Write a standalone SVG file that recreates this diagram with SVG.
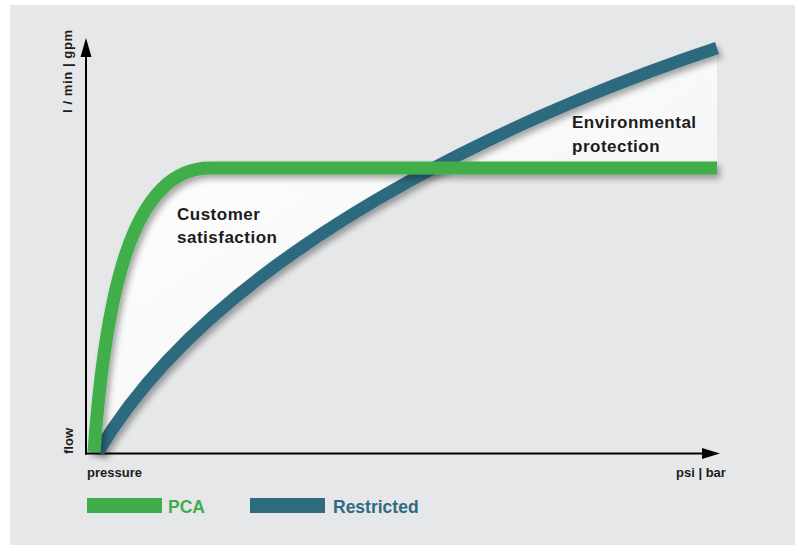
<svg xmlns="http://www.w3.org/2000/svg" width="802" height="545" viewBox="0 0 802 545">
  <style>
    .lbl { font-family: "Liberation Sans", Arial, sans-serif; font-weight: bold; fill: #1c1c1c; }
    .ax { font-size: 13px; }
    .area { font-size: 17px; letter-spacing: 0.5px; }
    .leg { font-size: 17.5px; font-family: "Liberation Sans", Arial, sans-serif; font-weight: bold; }
    .green { stroke: #3fae4a; stroke-width: 13; fill: none; stroke-linecap: butt; }
    .blue { stroke: #2f6b7f; stroke-width: 12.5; fill: none; stroke-linecap: butt; }
    .axis { stroke: #000; stroke-width: 2; fill: none; }
  </style>
  <defs>
    <filter id="shadow" x="-10%" y="-10%" width="130%" height="130%">
      <feGaussianBlur in="SourceAlpha" stdDeviation="3"/>
      <feOffset dx="3" dy="4" result="b"/>
      <feComponentTransfer><feFuncA type="linear" slope="0.35"/></feComponentTransfer>
      <feMerge><feMergeNode/><feMergeNode in="SourceGraphic"/></feMerge>
    </filter>
    <linearGradient id="fillGrad" x1="0" y1="0" x2="1" y2="1">
      <stop offset="0" stop-color="#ffffff"/>
      <stop offset="1" stop-color="#f1f2f3"/>
    </linearGradient>
  </defs>

  <rect id="panel" x="10" y="5" width="785" height="540" fill="#e6e7e9"/>

  <g id="axes">
    <line class="axis" x1="86" y1="454.5" x2="86" y2="52"/>
    <polygon points="86,38 80.5,57 91.5,57" fill="#000"/>
    <line class="axis" x1="85" y1="453.5" x2="705" y2="453.5"/>
    <polygon points="720,453.5 702,448 702,459" fill="#000"/>
  </g>

  <g id="fill-areas">
    <path d="M94,452 C105,300 130,168 210,168 L717,168 L717,48 C584,92 231,227 98,452 Z" fill="url(#fillGrad)"/>
  </g>

  <g id="connectors">
    <g id="restricted-curve" filter="url(#shadow)">
      <path class="blue" d="M98,452 C231,227 584,92 717,48"/>
    </g>
    <g id="pca-curve" filter="url(#shadow)">
      <path class="green" d="M94,452 C105,300 130,168 210,168 L717,168"/>
    </g>
  </g>

  <g id="axis-labels">
    <text class="lbl ax" transform="translate(72,113) rotate(-90)" textLength="83" lengthAdjust="spacing">l / min | gpm</text>
    <text class="lbl ax" transform="translate(73,454) rotate(-90)">flow</text>
    <text class="lbl ax" x="87" y="477">pressure</text>
    <text class="lbl ax" x="676" y="477">psi | bar</text>
  </g>

  <g id="customer-satisfaction">
    <text class="lbl area" x="177" y="220">Customer</text>
    <text class="lbl area" x="177" y="243">satisfaction</text>
  </g>

  <g id="environmental-protection">
    <text class="lbl area" x="572" y="128">Environmental</text>
    <text class="lbl area" x="572" y="152">protection</text>
  </g>

  <g id="legend-pca">
    <rect x="87" y="498" width="75" height="15" fill="#3fae4a"/>
    <text class="leg" x="168" y="513" fill="#3fae4a">PCA</text>
  </g>

  <g id="legend-restricted">
    <rect x="250" y="498" width="75" height="15" fill="#2f6b7f"/>
    <text class="leg" x="333" y="513" fill="#2f6b7f">Restricted</text>
  </g>
</svg>
